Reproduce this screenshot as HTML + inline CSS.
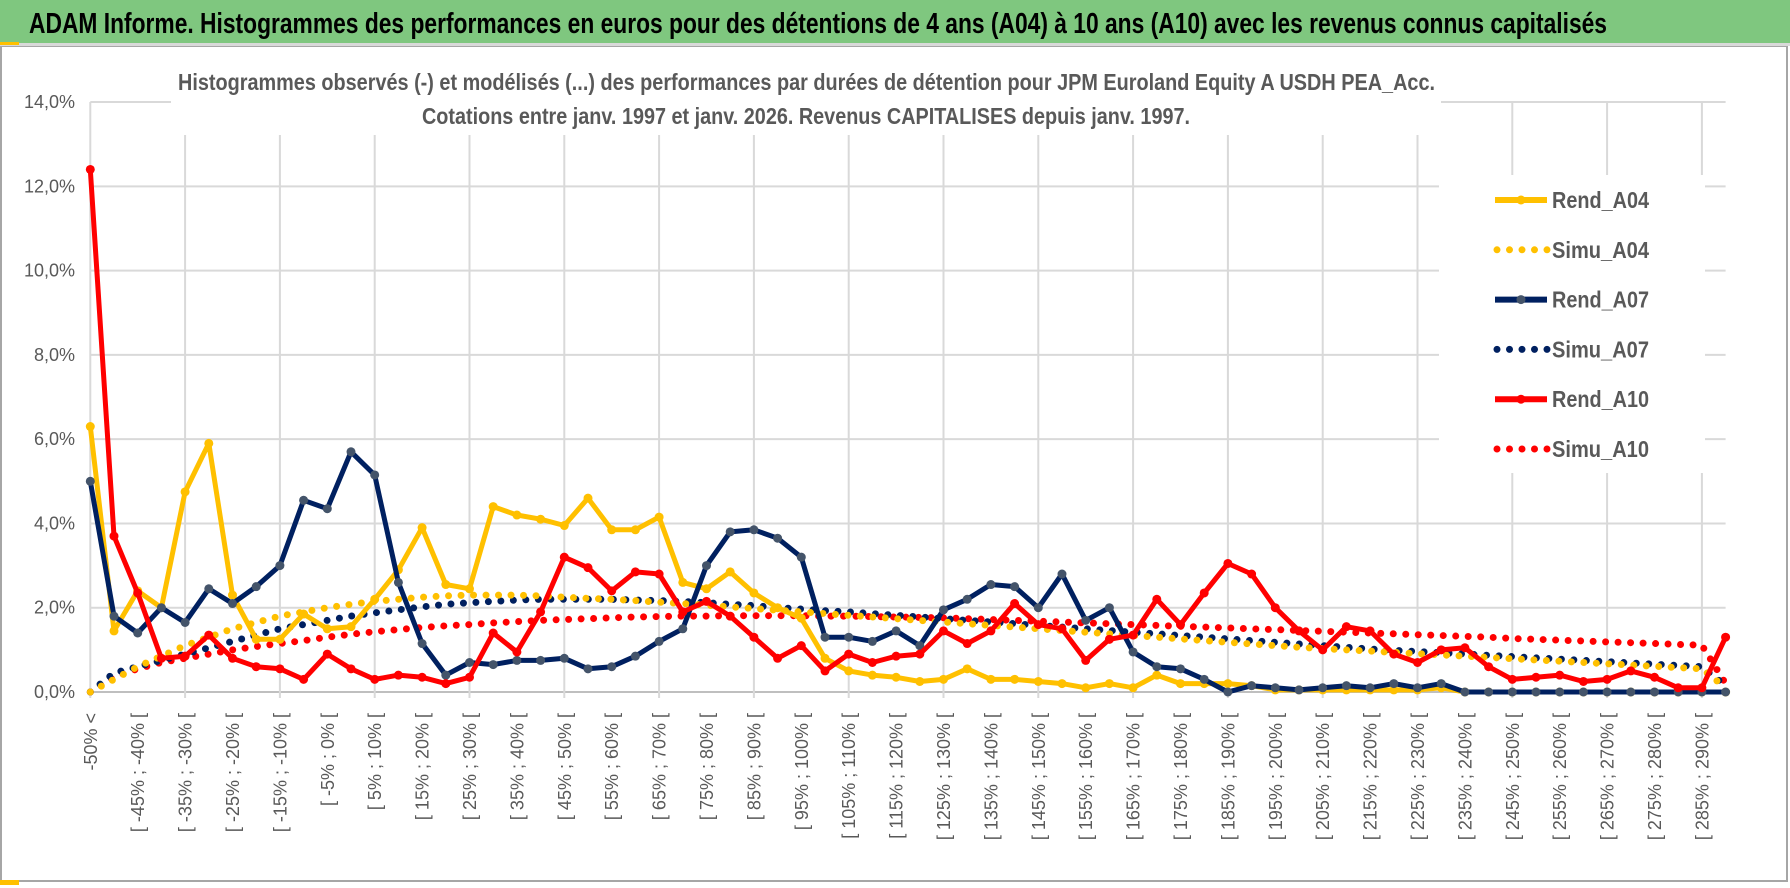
<!DOCTYPE html>
<html><head><meta charset="utf-8">
<style>
html,body{margin:0;padding:0;background:#fff;}
svg{display:block;font-family:"Liberation Sans",sans-serif;}
</style></head>
<body>
<svg id="chart" width="1790" height="888" viewBox="0 0 1790 888" xmlns="http://www.w3.org/2000/svg">
  <rect x="0" y="0" width="1790" height="888" fill="#fff"/>
  <rect x="1" y="46" width="1786" height="835" fill="none" stroke="#a6a6a6" stroke-width="2"/>
  <rect x="0" y="0" width="1790" height="43" fill="#7fc77f"/>
  <rect x="0" y="43" width="1790" height="3" fill="#d9d9d9"/>
  <rect x="0" y="42" width="19" height="3" fill="#ffc000"/>
  <rect x="0" y="880" width="19" height="5" fill="#ffc000"/>
  <text x="29" y="33" font-size="29" font-weight="bold" fill="#000" textLength="1578" lengthAdjust="spacingAndGlyphs">ADAM Informe. Histogrammes des performances en euros pour des détentions de 4 ans (A04) à 10 ans (A10) avec les revenus connus capitalisés</text>
  <g id="grid"></g>
  <rect x="171" y="50" width="1270" height="85" fill="#fff"/>
  <text x="178" y="90" font-size="23" font-weight="bold" fill="#595959" textLength="1257" lengthAdjust="spacingAndGlyphs">Histogrammes observés (-) et modélisés (...) des performances par durées de détention pour JPM Euroland Equity A USDH PEA_Acc.</text>
  <text x="422" y="124" font-size="23" font-weight="bold" fill="#595959" textLength="768" lengthAdjust="spacingAndGlyphs">Cotations entre janv. 1997 et janv. 2026. Revenus CAPITALISES depuis janv. 1997.</text>
  <g id="yaxis"></g>
  <g id="xaxis"></g>
  <g id="series"></g>
  <g id="legend"></g>
</svg>
<script>
const categories = ["-50% <","[ -50% ; -45% [","[ -45% ; -40% [","[ -40% ; -35% [","[ -35% ; -30% [","[ -30% ; -25% [","[ -25% ; -20% [","[ -20% ; -15% [","[ -15% ; -10% [","[ -10% ; -5% [","[ -5% ; 0% [","[ 0% ; 5% [","[ 5% ; 10% [","[ 10% ; 15% [","[ 15% ; 20% [","[ 20% ; 25% [","[ 25% ; 30% [","[ 30% ; 35% [","[ 35% ; 40% [","[ 40% ; 45% [","[ 45% ; 50% [","[ 50% ; 55% [","[ 55% ; 60% [","[ 60% ; 65% [","[ 65% ; 70% [","[ 70% ; 75% [","[ 75% ; 80% [","[ 80% ; 85% [","[ 85% ; 90% [","[ 90% ; 95% [","[ 95% ; 100% [","[ 100% ; 105% [","[ 105% ; 110% [","[ 110% ; 115% [","[ 115% ; 120% [","[ 120% ; 125% [","[ 125% ; 130% [","[ 130% ; 135% [","[ 135% ; 140% [","[ 140% ; 145% [","[ 145% ; 150% [","[ 150% ; 155% [","[ 155% ; 160% [","[ 160% ; 165% [","[ 165% ; 170% [","[ 170% ; 175% [","[ 175% ; 180% [","[ 180% ; 185% [","[ 185% ; 190% [","[ 190% ; 195% [","[ 195% ; 200% [","[ 200% ; 205% [","[ 205% ; 210% [","[ 210% ; 215% [","[ 215% ; 220% [","[ 220% ; 225% [","[ 225% ; 230% [","[ 230% ; 235% [","[ 235% ; 240% [","[ 240% ; 245% [","[ 245% ; 250% [","[ 250% ; 255% [","[ 255% ; 260% [","[ 260% ; 265% [","[ 265% ; 270% [","[ 270% ; 275% [","[ 275% ; 280% [","[ 280% ; 285% [","[ 285% ; 290% [","> 290%"];
const yTicks = [0,2,4,6,8,10,12,14];
const yTickLabels = ["0,0%","2,0%","4,0%","6,0%","8,0%","10,0%","12,0%","14,0%"];
const seriesNames = ["Rend_A04","Simu_A04","Rend_A07","Simu_A07","Rend_A10","Simu_A10"];
const rendA04 = [6.3,1.45,2.4,2.0,4.75,5.9,2.3,1.25,1.25,1.85,1.5,1.55,2.2,2.9,3.9,2.55,2.45,4.4,4.2,4.1,3.95,4.6,3.85,3.85,4.15,2.6,2.45,2.85,2.35,2.0,1.75,0.8,0.5,0.4,0.35,0.25,0.3,0.55,0.3,0.3,0.25,0.2,0.1,0.2,0.1,0.4,0.2,0.2,0.2,0.15,0.05,0.05,0.05,0.05,0.05,0.05,0.05,0.1,0,0,0,0,0,0,0,0,0,0,0,0];
const simuA04 = [0,0.3,0.6,0.85,1.1,1.3,1.5,1.65,1.8,1.9,2.0,2.08,2.15,2.2,2.25,2.28,2.3,2.3,2.3,2.28,2.25,2.22,2.2,2.17,2.13,2.1,2.06,2.02,1.98,1.94,1.9,1.86,1.82,1.78,1.74,1.7,1.66,1.62,1.58,1.54,1.5,1.46,1.42,1.38,1.34,1.3,1.26,1.22,1.18,1.14,1.1,1.06,1.03,1.0,0.97,0.94,0.91,0.88,0.85,0.82,0.79,0.76,0.73,0.7,0.67,0.64,0.61,0.58,0.55,0.1];
const rendA07 = [5.0,1.8,1.4,2.0,1.65,2.45,2.1,2.5,3.0,4.55,4.35,5.7,5.15,2.6,1.15,0.4,0.7,0.65,0.75,0.75,0.8,0.55,0.6,0.85,1.2,1.5,3.0,3.8,3.85,3.65,3.2,1.3,1.3,1.2,1.45,1.1,1.95,2.2,2.55,2.5,2.0,2.8,1.7,2.0,0.95,0.6,0.55,0.3,0.0,0.15,0.1,0.05,0.1,0.15,0.1,0.2,0.1,0.2,0,0,0,0,0,0,0,0,0,0,0,0];
const simuA07 = [0,0.45,0.6,0.75,0.9,1.05,1.2,1.35,1.5,1.6,1.7,1.8,1.88,1.95,2.02,2.08,2.12,2.15,2.18,2.2,2.2,2.2,2.2,2.18,2.17,2.15,2.12,2.08,2.05,2.0,1.97,1.93,1.9,1.86,1.82,1.78,1.74,1.7,1.66,1.62,1.58,1.54,1.5,1.46,1.42,1.38,1.34,1.3,1.26,1.22,1.18,1.14,1.1,1.06,1.02,0.99,0.96,0.93,0.9,0.87,0.84,0.81,0.78,0.75,0.72,0.69,0.66,0.63,0.6,0.15];
const rendA10 = [12.4,3.7,2.35,0.8,0.85,1.35,0.8,0.6,0.55,0.3,0.9,0.55,0.3,0.4,0.35,0.2,0.35,1.4,0.95,1.9,3.2,2.95,2.4,2.85,2.8,1.9,2.15,1.8,1.3,0.8,1.1,0.5,0.9,0.7,0.85,0.9,1.45,1.15,1.45,2.1,1.6,1.5,0.75,1.25,1.35,2.2,1.6,2.35,3.05,2.8,2.0,1.45,1.0,1.55,1.45,0.9,0.7,1.0,1.05,0.6,0.3,0.35,0.4,0.25,0.3,0.5,0.35,0.1,0.1,1.3];
const simuA10 = [0,0.35,0.55,0.7,0.8,0.9,1.0,1.08,1.15,1.22,1.3,1.37,1.43,1.48,1.53,1.57,1.6,1.64,1.67,1.7,1.72,1.74,1.76,1.78,1.79,1.8,1.8,1.81,1.81,1.81,1.81,1.8,1.8,1.79,1.78,1.77,1.76,1.74,1.72,1.7,1.68,1.66,1.64,1.62,1.6,1.58,1.56,1.54,1.52,1.5,1.48,1.46,1.44,1.42,1.4,1.38,1.36,1.34,1.32,1.3,1.27,1.25,1.23,1.21,1.19,1.17,1.15,1.13,1.11,0.2];

const NS = "http://www.w3.org/2000/svg";
const X0 = 90.3, XSTEP = 23.7, Y0 = 692, YPER = 42.14;
function xScale(i){ return X0 + i * XSTEP; }
function yScale(v){ return Y0 - v * YPER; }
function mk(tag, attrs, parent){
  const e = document.createElementNS(NS, tag);
  for (const k in attrs) e.setAttribute(k, attrs[k]);
  parent.appendChild(e);
  return e;
}
const grid = document.getElementById("grid");
const xEnd = xScale(categories.length - 1);
yTicks.forEach(function(t){
  const l = mk("line", {x1: X0, x2: xEnd, y1: yScale(t), y2: yScale(t), stroke: t === 0 ? "#bfbfbf" : "#d9d9d9", "stroke-width": 2}, grid);
  
  
});
for (let i = 0; i < categories.length; i += 4) {
  const l = mk("line", {x1: xScale(i), x2: xScale(i), y1: yScale(14), y2: Y0 + 6, stroke: "#d9d9d9", "stroke-width": 2}, grid);
  
  
}
const yaxis = document.getElementById("yaxis");
yTicks.forEach(function(t, i){
  const tx = mk("text", {x: 75, y: yScale(t) + 6, "text-anchor": "end", "font-size": 18, fill: "#595959"}, yaxis);
  tx.textContent = yTickLabels[i];
  
  
});
const xaxis = document.getElementById("xaxis");
categories.forEach(function(c, i){
  if (i % 2 !== 0) return;
  const x = xScale(i) + 6.5, y = 713;
  const tx = mk("text", {x: x, y: y, "text-anchor": "end", "font-size": 18, fill: "#595959", transform: "rotate(-90 " + x + " " + y + ")"}, xaxis);
  tx.textContent = c;
  
  
});
const seriesG = document.getElementById("series");
function pts(arr){ return arr.map(function(v, i){ return xScale(i).toFixed(1) + "," + yScale(v).toFixed(1); }).join(" "); }
function dotted(arr, color, name){
  const p = mk("polyline", {points: pts(arr), fill: "none", stroke: color, "stroke-width": 7, "stroke-linecap": "round", "stroke-dasharray": "0 12.5"}, seriesG);
  
  
}
function solid(arr, color, marker, name){
  const p = mk("polyline", {points: pts(arr), fill: "none", stroke: color, "stroke-width": 5, "stroke-linejoin": "round"}, seriesG);
  
  
  arr.forEach(function(v, i){
    const c = mk("circle", {cx: xScale(i), cy: yScale(v), r: 4.5, fill: marker}, seriesG);
    
    
  });
}
dotted(simuA10, "#ff0000", "simu-a10-line");
dotted(simuA07, "#002060", "simu-a07-line");
dotted(simuA04, "#ffc000", "simu-a04-line");
solid(rendA04, "#ffc000", "#ffc000", "rend-a04-line");
solid(rendA07, "#002060", "#44546a", "rend-a07-line");
solid(rendA10, "#ff0000", "#ff0000", "rend-a10-line");

const legend = document.getElementById("legend");
const lb = mk("rect", {x: 1439, y: 175, width: 266, height: 298, fill: "#fff"}, legend);


const legColors = ["#ffc000","#ffc000","#002060","#002060","#ff0000","#ff0000"];
const legMarkers = ["#ffc000","","#44546a","","#ff0000",""];
seriesNames.forEach(function(n, i){
  const y = 200 + i * 49.8;
  const g = mk("g", {}, legend);
  
  
  if (i % 2 === 0) {
    mk("line", {x1: 1495, x2: 1547, y1: y, y2: y, stroke: legColors[i], "stroke-width": 6}, g);
    mk("circle", {cx: 1521, cy: y, r: 4.5, fill: legMarkers[i]}, g);
  } else {
    mk("line", {x1: 1497, x2: 1548, y1: y, y2: y, stroke: legColors[i], "stroke-width": 7, "stroke-linecap": "round", "stroke-dasharray": "0 12.5"}, g);
  }
  const t = mk("text", {x: 1552, y: y + 8, "font-size": 23, "font-weight": "bold", fill: "#595959", textLength: 97, lengthAdjust: "spacingAndGlyphs"}, g);
  t.textContent = n;
});
</script>
</body></html>
